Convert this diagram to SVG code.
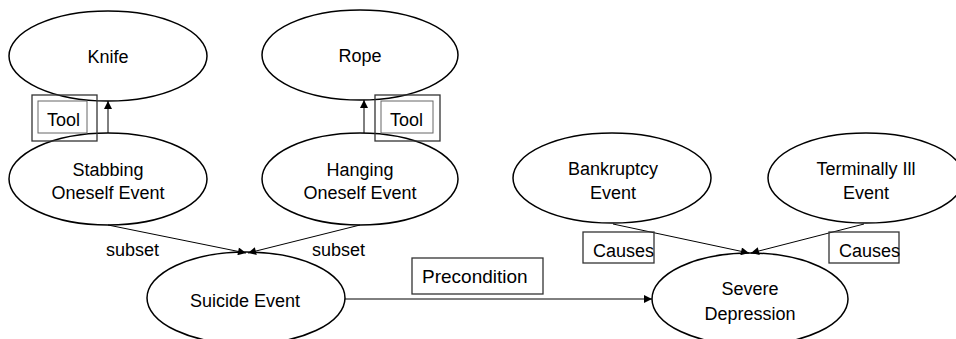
<svg xmlns="http://www.w3.org/2000/svg" width="956" height="339" viewBox="0 0 956 339">
<style>
.node ellipse{fill:#fff;stroke:#000;stroke-width:1.5}
text{font-family:"Liberation Sans",Arial,sans-serif;font-size:18px;fill:#000}
.c{text-anchor:middle}
.conn line{stroke:#000;stroke-width:1}
.box{fill:none;stroke:#333;stroke-width:1.3}
.inner{fill:none;stroke:#666;stroke-width:1}
</style>
<defs>
<marker id="ah" viewBox="0 0 10 10" refX="10" refY="5" markerWidth="9" markerHeight="8" markerUnits="userSpaceOnUse" orient="auto">
<path d="M0,0 L10,5 L0,10 z" fill="#000"/>
</marker>
</defs>
<rect width="956" height="339" fill="#fff"/>
<g id="knife" class="node"><ellipse cx="108" cy="56" rx="99" ry="45"/><text class="c" x="108" y="63">Knife</text></g>
<g id="rope" class="node"><ellipse cx="360" cy="55" rx="98" ry="45"/><text class="c" x="360" y="62">Rope</text></g>
<g id="stabbing" class="node"><ellipse cx="108" cy="179" rx="99" ry="46"/><text class="c" x="108" y="176">Stabbing</text><text class="c" x="108" y="199">Oneself Event</text></g>
<g id="hanging" class="node"><ellipse cx="360" cy="179" rx="98" ry="46"/><text class="c" x="360" y="176">Hanging</text><text class="c" x="360" y="199">Oneself Event</text></g>
<g id="bankruptcy" class="node"><ellipse cx="612" cy="178" rx="99" ry="45"/><text class="c" x="613" y="175">Bankruptcy</text><text class="c" x="613" y="199">Event</text></g>
<g id="terminally" class="node"><ellipse cx="866" cy="178" rx="98" ry="45"/><text class="c" x="866" y="175">Terminally Ill</text><text class="c" x="866" y="199">Event</text></g>
<g id="suicide" class="node"><ellipse cx="246" cy="298" rx="99" ry="46"/><text class="c" x="245" y="307">Suicide Event</text></g>
<g id="severe" class="node"><ellipse cx="750" cy="299" rx="98" ry="46"/><text class="c" x="750" y="295">Severe</text><text class="c" x="750" y="320">Depression</text></g>
<g id="connectors" class="conn">
<line x1="108" y1="133" x2="108" y2="101" marker-end="url(#ah)"/>
<line x1="364" y1="133" x2="364" y2="100" marker-end="url(#ah)"/>
<line x1="108" y1="225" x2="246" y2="253" marker-end="url(#ah)"/>
<line x1="360" y1="225" x2="248" y2="253" marker-end="url(#ah)"/>
<line x1="613" y1="224" x2="749" y2="253" marker-end="url(#ah)"/>
<line x1="864" y1="224" x2="751" y2="253" marker-end="url(#ah)"/>
<line x1="345" y1="299" x2="652" y2="299" marker-end="url(#ah)"/>
</g>
<g id="label-tool-knife"><rect class="box" x="32" y="95" width="65" height="46"/><rect class="inner" x="38" y="101" width="49" height="32"/><text x="47" y="126">Tool</text></g>
<g id="label-tool-rope"><rect class="box" x="375" y="95" width="65" height="46"/><rect class="inner" x="381" y="101" width="52" height="32"/><text x="390" y="126">Tool</text></g>
<g id="label-subset-1"><text x="106" y="256">subset</text></g>
<g id="label-subset-2"><text x="312" y="256">subset</text></g>
<g id="label-precondition"><rect class="box" x="412" y="258" width="131" height="36"/><text x="422" y="283" style="font-size:19px">Precondition</text></g>
<g id="label-causes-1"><rect class="box" x="583" y="232" width="71" height="31"/><text x="593" y="257">Causes</text></g>
<g id="label-causes-2"><rect class="box" x="829" y="232" width="70" height="31"/><text x="839" y="257">Causes</text></g>
</svg>
